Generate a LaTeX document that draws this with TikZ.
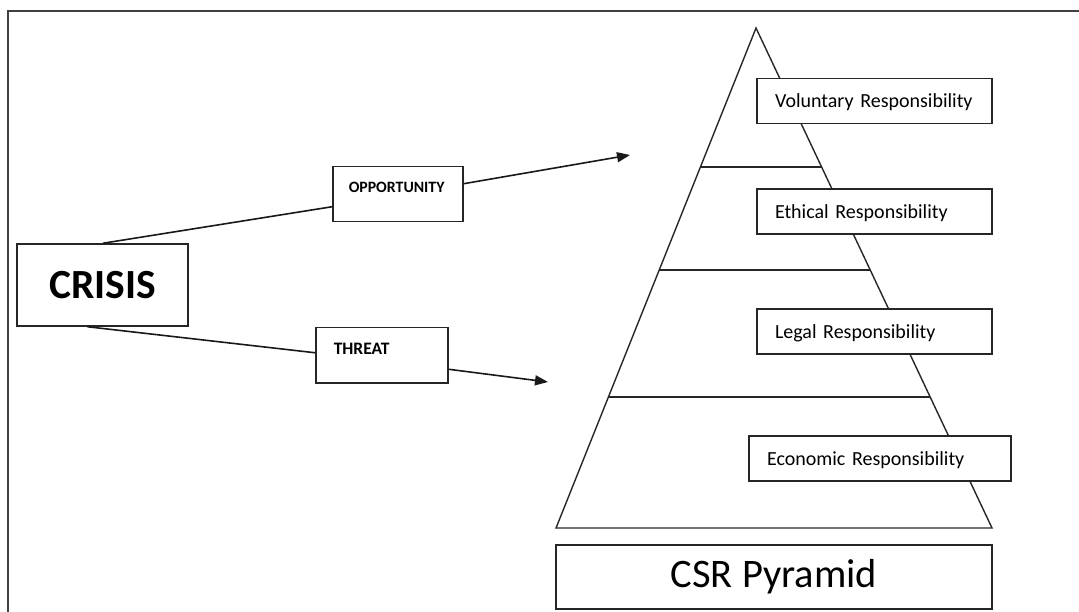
\documentclass[tikz,border=0pt]{standalone}
\usepackage{fontspec}
\setmainfont{Carlito}
\usetikzlibrary{arrows.meta,calc}
\tikzset{
  box/.style={draw=black!85, line width=1.5pt, fill=white, inner sep=0pt},
  resp/.style={box, minimum height=45pt, inner xsep=18pt, align=left, text height=14pt, text depth=0.5pt, font=\fontsize{20}{23}\selectfont},
  conn/.style={draw=black!90, line width=1.6pt},
  arr/.style={conn, -{Triangle[length=13pt,width=10pt]}},
  pyr/.style={draw=black!85, line width=1.4pt}
}
\begin{document}
\begin{tikzpicture}[x=1pt,y=-1pt]
\useasboundingbox (0,0) rectangle (1079,612);
% frame
\draw[draw=black!75, line width=2pt] (8,612) -- (8,11) -- (1079,11);
% pyramid
\coordinate (apex) at (756,28);
\coordinate (bl) at (556,528);
\coordinate (br) at (992,528);
\draw[pyr] (apex) -- (br) -- (bl) -- cycle;
\draw[pyr] ($(apex)!0.278!(bl)$) -- ($(apex)!0.278!(br)$);
\draw[pyr] ($(apex)!0.484!(bl)$) -- ($(apex)!0.484!(br)$);
\draw[pyr] ($(apex)!0.738!(bl)$) -- ($(apex)!0.738!(br)$);
% responsibility boxes
\node[resp, text width=199pt] (vol) at (874.5,101) {Voluntary Responsibility};
\node[resp, text width=199pt] (eth) at (874.5,211.5) {Ethical Responsibility};
\node[resp, text width=199pt] (leg) at (874.5,331.5) {Legal Responsibility};
\node[resp, text width=226pt] (eco) at (880,458.5) {Economic Responsibility};
\node[box, minimum width=436pt, minimum height=64pt, font=\fontsize{40.5}{44}\selectfont] (csr) at (774,577) {CSR Pyramid};
% left side
\node[box, minimum width=171pt, minimum height=82pt, font=\fontsize{41.5}{44}\selectfont\bfseries] (crisis) at (102.5,285) {CRISIS};
\node[box, anchor=north west, inner xsep=16pt, inner ysep=15pt, text width=98pt, align=left,
      text height=10.5pt, text depth=14.5pt, font=\fontsize{15.8}{17}\selectfont\bfseries] (opp) at (332,166) {OPPORTUNITY};
\node[box, anchor=north west, inner xsep=18pt, inner ysep=16pt, text width=96pt, align=left,
      text height=10.5pt, text depth=12.5pt, font=\fontsize{17.5}{19}\selectfont\bfseries] (thr) at (315,327) {THREAT};
\coordinate (opptip) at (630,155);
\coordinate (thrtip) at (548,382);
% connectors
\draw[conn] ([xshift=0.5pt]crisis.north) -- ([yshift=-12.5pt]opp.west);
\draw[arr] ([yshift=10.5pt]opp.east) -- (opptip);
\draw[conn] ([xshift=-15pt]crisis.south) -- ([yshift=2.5pt]thr.west);
\draw[arr] ([yshift=-14pt]thr.east) -- (thrtip);
\end{tikzpicture}
\end{document}
